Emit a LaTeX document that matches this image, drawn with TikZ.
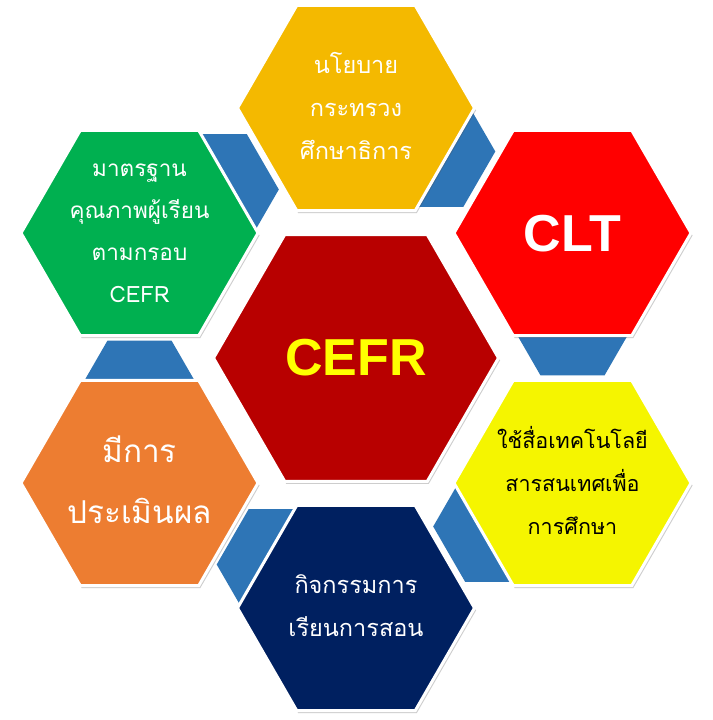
\documentclass[tikz,border=0pt]{standalone}
\usepackage{fontspec}
\setmainfont{Liberation Sans}
\newfontfamily\thaifont[Script=Thai]{Loma}
\usetikzlibrary{shadows}
\definecolor{cTop}{HTML}{F4B900}
\definecolor{cCLT}{HTML}{FF0000}
\definecolor{cYel}{HTML}{F5F500}
\definecolor{cNavy}{HTML}{002060}
\definecolor{cOrg}{HTML}{ED7D31}
\definecolor{cGrn}{HTML}{00B050}
\definecolor{cCtr}{HTML}{B80000}
\definecolor{cBlue}{HTML}{2E75B6}
\definecolor{cCefr}{HTML}{FFFF00}
\newcommand\myhex[4]{\begin{scope}[shift={(#1,#2)}]\path[#4] (0:#3) -- (60:#3) -- (120:#3) -- (180:#3) -- (240:#3) -- (300:#3) -- cycle;\end{scope}}
\tikzset{
  bluepiece/.style={fill=cBlue},
  bighex/.style={fill=#1, draw=white, line width=3pt, line join=miter,
     drop shadow={opacity=0.28, shadow xshift=1.5pt, shadow yshift=-2.5pt, fill=black!70}},
  thaitxt/.style={align=center, inner sep=0pt, font=\thaifont\fontsize{23.5}{43}\selectfont},
  bigtxt/.style={inner sep=0pt, font=\bfseries\fontsize{52}{52}\selectfont}
}
\begin{document}
\begin{tikzpicture}[x=1pt,y=-1pt]
\fill[white] (0,0) rectangle (712,720);
\useasboundingbox (0,0) rectangle (712,720);
% blue connecting pieces
\myhex{572.5}{320}{64}{bluepiece}
\myhex{431.3}{151.5}{64}{bluepiece}
\myhex{214.8}{189.5}{64}{bluepiece}
\myhex{139.5}{396}{64}{bluepiece}
\myhex{280.7}{564.5}{64}{bluepiece}
\myhex{497.2}{526.5}{64}{bluepiece}
% outer hexagons
\myhex{356}{108}{118.5}{bighex=cTop}
\myhex{572.5}{233}{118.5}{bighex=cCLT}
\myhex{572.5}{483}{118.5}{bighex=cYel}
\myhex{356}{608}{118.5}{bighex=cNavy}
\myhex{139.5}{483}{118.5}{bighex=cOrg}
\myhex{139.5}{233}{118.5}{bighex=cGrn}
% centre hexagon
\myhex{356}{358}{142.5}{bighex=cCtr}
% texts
\node[bigtxt, text=cCefr] (tCefr) at (356,358) {CEFR};
\node[bigtxt, text=white] (tClt) at (572.5,233.5) {CLT};
\node[thaitxt, text=white] (tTop) at (356,106) {นโยบาย\\กระทรวง\\ศึกษาธิการ};
\node[thaitxt, text=white, font=\thaifont\fontsize{22.5}{42}\selectfont] (tGrn) at (139.5,233) {มาตรฐาน\\คุณภาพผู้เรียน\\ตามกรอบ\\CEFR};
\node[thaitxt, text=black, font=\thaifont\fontsize{21.5}{43}\selectfont] (tYel) at (572.5,480) {ใช้สื่อเทคโนโลยี\\สารสนเทศเพื่อ\\การศึกษา};
\node[thaitxt, text=white] (tNavy) at (356,606) {กิจกรรมการ\\เรียนการสอน};
\node[thaitxt, text=white, font=\thaifont\fontsize{31.5}{61}\selectfont] (tOrg) at (139.5,480) {มีการ\\ประเมินผล};
\end{tikzpicture}
\end{document}
